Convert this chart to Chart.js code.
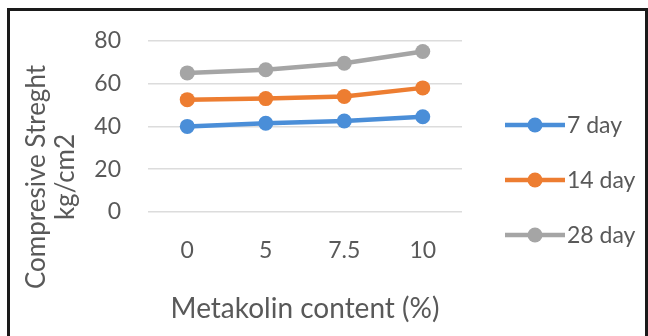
<!DOCTYPE html>
<html>
<head>
<meta charset="utf-8">
<script src="https://cdn.jsdelivr.net/npm/chart.js@4.4.0/dist/chart.umd.min.js"></script>
<style>
  body { margin: 0; background: #fff; }
  #wrap { position: relative; width: 648px; height: 336px; }
  #frame {
    position: absolute; left: 7px; top: 8px; right: 0; bottom: -4px;
    border-top: 3px solid #1a1a1a; border-left: 3px solid #1a1a1a; border-right: 3px solid #1a1a1a;
    pointer-events: none;
  }
</style>
</head>
<body>
<div id="wrap">
  <canvas id="chart" width="648" height="336"></canvas>
  <div id="frame"></div>
</div>
<script>
// 메타카올린 함량별 압축강도 데이터
const contents = ["0", "5", "7.5", "10"];
const day7 = [40, 41.5, 42.5, 44.5];
const day14 = [52.5, 53, 54, 58];
const day28 = [65, 66.5, 69.5, 75];
const seriesNames = ["7 day", "14 day", "28 day"];
const yTitleLines = ["Compresive Streght", "kg/cm2"];
const xTitle = "Metakolin content (%)";

const textColor = "#595959";
const fontFamily = "Lato, 'Open Sans', sans-serif";

function lineSet(label, data, color) {
    return {
        label: label,
        data: data,
        borderColor: color,
        backgroundColor: color,
        borderWidth: 4.5,
        pointRadius: 7.5,
        pointHoverRadius: 7.5,
        pointBorderWidth: 0,
        tension: 0
    };
}

// 세로축 제목 (두 줄, 회전)
const yTitlePlugin = {
    id: "yTitle",
    afterDraw(chart) {
        const ctx = chart.ctx;
        ctx.save();
        ctx.fillStyle = textColor;
        ctx.font = "26px " + fontFamily;
        ctx.textAlign = "center";
        ctx.textBaseline = "middle";
        const xs = [37, 66];
        yTitleLines.forEach((line, i) => {
            ctx.save();
            ctx.translate(xs[i], 177);
            ctx.rotate(-Math.PI / 2);
            ctx.fillText(line, 0, 0);
            ctx.restore();
        });
        ctx.restore();
    }
};

// 오른쪽 범례: 선 + 점 모양
const sideLegend = {
    id: "sideLegend",
    afterDraw(chart) {
        const ctx = chart.ctx;
        const left = chart.chartArea.right + 43;
        const rows = [125, 180, 235];
        ctx.save();
        chart.data.datasets.forEach((ds, i) => {
            const y = rows[i];
            ctx.strokeStyle = ds.borderColor;
            ctx.lineWidth = 4.5;
            ctx.beginPath();
            ctx.moveTo(left, y);
            ctx.lineTo(left + 60, y);
            ctx.stroke();
            ctx.fillStyle = ds.borderColor;
            ctx.beginPath();
            ctx.arc(left + 30, y, 7.5, 0, Math.PI * 2);
            ctx.fill();
            ctx.fillStyle = textColor;
            ctx.font = "23px " + fontFamily;
            ctx.textAlign = "left";
            ctx.textBaseline = "middle";
            ctx.fillText(ds.label, left + 62, y + 1);
        });
        ctx.restore();
    }
};

new Chart(document.getElementById("chart"), {
    type: "line",
    data: {
        labels: contents,
        datasets: [
            lineSet(seriesNames[0], day7, "#4a8ed8"),
            lineSet(seriesNames[1], day14, "#ed7d31"),
            lineSet(seriesNames[2], day28, "#a5a5a5")
        ]
    },
    options: {
        responsive: false,
        animation: false,
        layout: { padding: { top: 36, right: 186, left: 0, bottom: 0 } },
        plugins: {
            legend: { display: false },
            tooltip: { enabled: false }
        },
        scales: {
            x: {
                offset: true,
                afterFit: (scale) => { scale.height = 124; },
                grid: { display: false, drawTicks: false },
                border: { display: false },
                ticks: {
                    color: textColor,
                    padding: 25,
                    font: { family: fontFamily, size: 23 }
                },
                title: {
                    display: true,
                    text: xTitle,
                    color: textColor,
                    padding: { top: 0, bottom: 10 },
                    font: { family: fontFamily, size: 28 }
                }
            },
            y: {
                min: 0,
                max: 80,
                afterFit: (scale) => { scale.width = 148; },
                grid: { color: "#dcdcdc", lineWidth: 1.5, drawTicks: false },
                border: { display: false },
                ticks: {
                    stepSize: 20,
                    color: textColor,
                    padding: 27,
                    font: { family: fontFamily, size: 23 }
                }
            }
        }
    },
    plugins: [yTitlePlugin, sideLegend]
});
</script>
</body>
</html>
